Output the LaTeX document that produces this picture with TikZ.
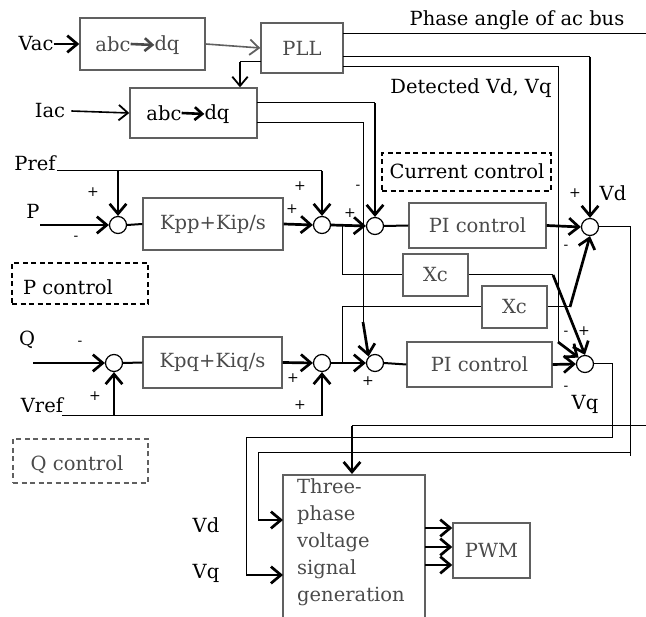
\documentclass[tikz,border=0pt]{standalone}
\usepackage{fontspec}
\setmainfont{DejaVu Serif}
\usetikzlibrary{arrows.meta}
\definecolor{boxgray}{HTML}{606060}
\definecolor{boxtext}{HTML}{4A4A4A}
\begin{document}
\begin{tikzpicture}[x=1pt,y=-1pt,
  font=\fontsize{19.5}{22}\selectfont,
  blk/.style={draw=boxgray, line width=1.4pt, text=boxtext, inner sep=0pt},
  sumj/.style={circle, draw, line width=1.2pt, minimum size=17pt, inner sep=0pt, fill=white},
  wire/.style={line width=1pt},
  thk/.style={line width=2.7pt, -{Straight Barb[angle=80:13pt, line width=2.7pt]}},
  med/.style={line width=1.6pt, -{Straight Barb[angle=80:12pt, line width=1.8pt]}},
  sgn/.style={font=\fontsize{14}{16}\selectfont, inner sep=0pt},
  dbox/.style={draw, line width=1.8pt, dash pattern=on 5pt off 3.5pt},
  lbl/.style={inner sep=0pt}]
\useasboundingbox (0,0) rectangle (646,617);

% ---------- top: abc/dq and PLL ----------
\node[blk, minimum width=125pt, minimum height=52pt] (abc1) at (142.5,44) {};
\node[lbl, text=boxtext] (abc1a) at (113,44) {abc};
\node[lbl, text=boxtext] (abc1b) at (167,45) {dq};
\draw[line width=2.6pt, boxtext, -{Straight Barb[angle=80:10pt, line width=2.6pt]}] (abc1a.east) -- (abc1b.west);
\node[blk, minimum width=82pt, minimum height=50pt] (pll) at (302,48) {PLL};
\node[blk, text=black, minimum width=127pt, minimum height=50pt] (abc2) at (193.5,113) {};
\node[lbl] (abc2a) at (164,113) {abc};
\node[lbl] (abc2b) at (217,114) {dq};
\draw[line width=2.6pt, -{Straight Barb[angle=80:10pt, line width=2.6pt]}] (abc2a.east) -- (abc2b.west);

\node[lbl] (vac) at (36,44) {Vac};
\node[lbl] (iac) at (50,111) {Iac};
\draw[thk] (vac.east) -- (abc1.west);
\draw[med, boxgray] (abc1.east) -- (pll.west);
\draw[med] (iac.east) ++(6pt,0) -- (abc2.west);
\coordinate (pllbl) at (261,62);
\coordinate (pllbend) at (240,62);
\draw[wire] (pllbl) -- (pllbend);
\draw[med] (pllbend) -- (pllbend |- abc2.north);

% PLL outputs
\coordinate (ph1) at (343,34);
\coordinate (ph2) at (646,34);
\draw[wire] (ph1) -- (ph2);
\node[lbl] (phlab) at (517,20) {Phase angle of ac bus};
\node[lbl] (detlab) at (471,88) {Detected Vd, Vq};

% ---------- P control row ----------
\node[sumj] (p1) at (118,225) {};
\node[blk, minimum width=140pt, minimum height=52pt] (kpp) at (213,224) {Kpp+Kip/s};
\node[sumj] (p2) at (322,225) {};
\node[sumj] (id) at (375,226) {};
\node[blk, minimum width=137pt, minimum height=45pt] (pid) at (477.5,225.5) {PI control};
\node[sumj] (vd) at (590,227) {};

\node[lbl] (pref) at (35,163) {Pref};
\node[lbl] (pin) at (33,211) {P};
\coordinate (prefa) at (57,171);
\coordinate (prefb) at (322,171);
\draw[wire] (prefa) -- (prefb);
\draw[thk] (118,171) -- (p1.north);
\draw[thk] (prefb) -- (p2.north);
\draw[thk] (40,225) -- (p1.west);
\draw[line width=2pt] (p1.east) -- (kpp.west);
\draw[thk] (kpp.east) -- (p2.west);
\draw[thk] (p2.east) -- (id.west);
\draw[line width=2pt] (id.east) -- (pid.west);
\draw[thk] (pid.east) -- (vd.west);

\node[sgn] (s1) at (93,192) {+};
\node[sgn] (s2) at (76,238) {-};
\node[sgn] (s3) at (300,186) {+};
\node[sgn] (s4) at (292,209) {+};
\node[sgn] (s5) at (350,213) {+};
\node[sgn] (s6) at (358,187) {-};
\node[sgn] (s7) at (575,193) {+};
\node[lbl] (vdlab) at (613,193) {Vd};
\node[sgn] (s8) at (566,247) {-};

\node[dbox, minimum width=136pt, minimum height=41pt] (pctl) at (80,283.5) {};
\node[lbl] (pctlt) at (68,287) {P control};
\node[dbox, minimum width=169pt, minimum height=38pt] (cctl) at (466.5,172) {};
\node[lbl] (cctlt) at (467,171) {Current control};

% current feedback from abc/dq
\coordinate (idf1) at (257,103);
\coordinate (idf2) at (375,103);
\draw[wire] (idf1) -- (idf2);
\draw[thk] (idf2) -- (id.north);
\coordinate (iqf1) at (257,123);
\coordinate (iqf2) at (363,123);
\coordinate (iqf3) at (363,322);
\draw[wire] (iqf1) -- (iqf2) -- (iqf3);

% detected Vd, Vq
\coordinate (dv1) at (343,57);
\coordinate (dv2) at (590,57);
\draw[wire] (dv1) -- (dv2);
\draw[thk] (dv2) -- (vd.north);
\coordinate (dq1) at (343,67);
\coordinate (dq2) at (558,67);
\coordinate (dq3) at (558,342);
\draw[wire] (dq1) -- (dq2) -- (dq3);

% ---------- Q control row ----------
\node[sumj] (q1) at (114,363) {};
\node[blk, minimum width=139pt, minimum height=51pt] (kpq) at (212.5,362.5) {Kpq+Kiq/s};
\node[sumj] (q2) at (322,363) {};
\node[sumj] (iq) at (375,363) {};
\node[blk, minimum width=145pt, minimum height=45pt] (piq) at (479.5,364.5) {PI control};
\node[sumj] (vq) at (585,364) {};

\node[lbl] (qin) at (27,340) {Q};
\node[lbl] (vref) at (42,405) {Vref};
\coordinate (vr1) at (62,416);
\coordinate (vr2) at (322,416);
\draw[wire] (vr1) -- (vr2);
\draw[thk] (114,416) -- (q1.south);
\draw[thk] (vr2) -- (q2.south);
\draw[thk] (33,363) -- (q1.west);
\draw[line width=2pt] (q1.east) -- (kpq.west);
\draw[thk] (kpq.east) -- (q2.west);
\draw[thk] (q2.east) -- (iq.west);
\draw[line width=2pt] (iq.east) -- (piq.west);
\draw[thk] (piq.east) -- (vq.west);

\node[sgn] (t1) at (80,343) {-};
\node[sgn] (t2) at (95,396) {+};
\node[sgn] (t3) at (293,378) {+};
\node[sgn] (t4) at (300,405) {+};
\node[sgn] (t5) at (368,381) {+};
\node[sgn] (t6) at (566,333) {-};
\node[sgn] (t7) at (584,331) {+};
\node[sgn] (t8) at (566,388) {-};
\node[lbl] (vqlab) at (585,404) {Vq};

\node[dbox, draw=boxgray, line width=1.4pt, minimum width=135pt, minimum height=44pt] (qctl) at (80.5,461) {};
\node[lbl, text=boxtext] (qctlt) at (77,465) {Q control};

\draw[thk] (iqf3) -- (iq.north west);
\draw[thk] (dq3) -- (vq.north west);

% ---------- decoupling Xc ----------
\node[blk, minimum width=65pt, minimum height=42pt] (xc1) at (435.5,275) {Xc};
\node[blk, minimum width=65pt, minimum height=42pt, fill=white] (xc2) at (514.5,307) {Xc};
\draw[wire] (342,225) -- (342,275) -- (xc1.west);
\draw[wire] (342,363) -- (342,307) -- (xc2.west);
\coordinate (x1o) at (553,275);
\draw[wire] (xc1.east) -- (x1o);
\draw[thk] (x1o) -- (vq.north);
\coordinate (x2o) at (570,307);
\draw[wire] (xc2.east) -- (x2o);
\draw[thk] (x2o) -- (vd.south);

% ---------- outputs to voltage generation ----------
\draw[blk, fill=none] (283,640) -- (283,475) -- (425,475) -- (425,640);
\coordinate (three) at (354,475);
\node[lbl, text=boxtext, anchor=north west, align=left, font=\fontsize{19.5}{27}\selectfont] (threet) at (297,478)
  {Three-\\phase\\voltage\\signal\\generation};
\node[blk, minimum width=77pt, minimum height=55pt] (pwm) at (491.5,550.5) {PWM};
\draw[thk] (425,528) -- (pwm.west |- 0,528);
\draw[thk] (425,547) -- (pwm.west |- 0,547);
\draw[thk] (425,565) -- (pwm.west |- 0,565);

\coordinate (vdo1) at (630,227);
\coordinate (vdo2) at (630,456);
\draw[wire] (vd.east) -- (vdo1) -- (vdo2);
\coordinate (vdo3) at (258,453);
\coordinate (vdo4) at (258,520);
\draw[wire] (631,453) -- (vdo3) -- (vdo4);
\draw[thk] (vdo4) -- (283,520);

\coordinate (vqo1) at (612,364);
\coordinate (vqo2) at (612,438);
\coordinate (vqo3) at (246,438);
\coordinate (vqo4) at (246,575);
\draw[wire] (vq.east) -- (vqo1) -- (vqo2) -- (vqo3) -- (vqo4);
\draw[thk] (vqo4) -- (283,575);

\coordinate (pa1) at (646,426);
\coordinate (pa2) at (352,426);
\draw[wire] (pa1) -- (pa2);
\draw[thk] (pa2) -- (352,474);

\node[lbl] (vdin) at (206,525) {Vd};
\node[lbl] (vqin) at (206,573) {Vq};
\end{tikzpicture}
\end{document}
